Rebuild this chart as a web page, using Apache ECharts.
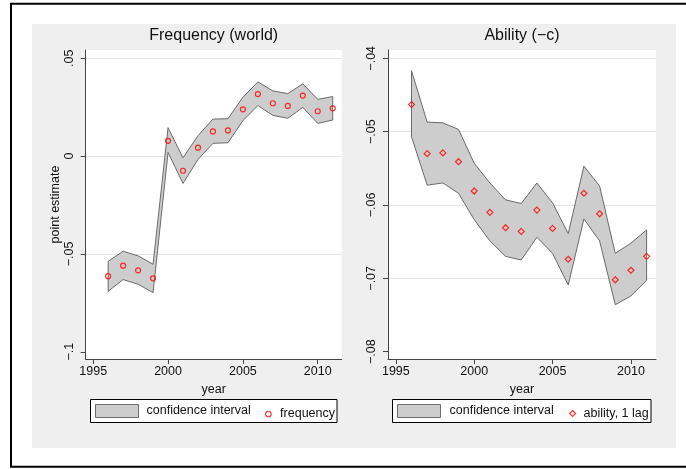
<!DOCTYPE html>
<html>
<head>
<meta charset="utf-8">
<script src="https://cdn.jsdelivr.net/npm/echarts@6/dist/echarts.min.js"></script>
<style>
  html, body { margin: 0; padding: 0; background: #fff; }
  #chart { width: 686px; height: 469px; }
</style>
</head>
<body>
<div id="chart"></div>
<script>
// Survey years
const years = [1996, 1997, 1998, 1999, 2000, 2001, 2002, 2003, 2004, 2005, 2006, 2007, 2008, 2009, 2010, 2011];

// Frequency (world): point estimates and 95% bounds
const freqPoint = [-0.0614, -0.0560, -0.0584, -0.0625, 0.0078, -0.0075, 0.0043, 0.0126, 0.0131, 0.0239, 0.0317, 0.0270, 0.0256, 0.0309, 0.0229, 0.0244];
const freqUpper = [-0.0538, -0.0486, -0.0510, -0.0553, 0.0145, -0.0009, 0.0104, 0.0189, 0.0191, 0.0300, 0.0379, 0.0333, 0.0319, 0.0369, 0.0290, 0.0304];
const freqLower = [-0.0691, -0.0631, -0.0655, -0.0698, 0.0019, -0.0140, -0.0017, 0.0065, 0.0068, 0.0181, 0.0258, 0.0208, 0.0193, 0.0249, 0.0167, 0.0184];

// Ability (-c), one lag: point estimates and 95% bounds
const abilPoint = [-0.0463, -0.0530, -0.0529, -0.0541, -0.0581, -0.0610, -0.0631, -0.0636, -0.0607, -0.0632, -0.0674, -0.0584, -0.0612, -0.0702, -0.0689, -0.0670];
const abilUpper = [-0.0417, -0.0487, -0.0488, -0.0497, -0.0543, -0.0570, -0.0593, -0.0598, -0.0570, -0.0597, -0.0639, -0.0547, -0.0574, -0.0666, -0.0652, -0.0634];
const abilLower = [-0.0507, -0.0573, -0.0570, -0.0584, -0.0620, -0.0649, -0.0670, -0.0675, -0.0644, -0.0666, -0.0709, -0.0619, -0.0649, -0.0736, -0.0724, -0.0703];

// Axis ticks and their labels
const xTicks = [1995, 2000, 2005, 2010];
const freqTicks = [-0.1, -0.05, 0, 0.05];
const freqTickLabels = ['\u2212.1', '\u2212.05', '0', '.05'];
const freqGrid = [-0.05, 0, 0.05];
const abilTicks = [-0.08, -0.07, -0.06, -0.05, -0.04];
const abilTickLabels = ['\u2212.08', '\u2212.07', '\u2212.06', '\u2212.05', '\u2212.04'];
const abilGrid = [-0.07, -0.06, -0.05, -0.04];

const FONT = "'Liberation Sans', Arial, Helvetica, sans-serif";
const INK = '#111';
const AXIS = '#444';
const BAND_FILL = '#cdcdcd';
const BAND_EDGE = '#6b6b6b';
const MARK = '#ff0000';

function tickFormatter(ticks, labels) {
  return function (v) {
    for (let i = 0; i < ticks.length; i++) {
      if (Math.abs(ticks[i] - v) < 1e-9) return labels[i];
    }
    return '';
  };
}

// Confidence band as one closed polygon (upper edge forward, lower edge back)
function bandRenderer(lower, upper) {
  return function (params, api) {
    if (params.dataIndex !== 0) return null;
    const pts = [];
    for (let i = 0; i < years.length; i++) pts.push(api.coord([years[i], upper[i]]));
    for (let i = years.length - 1; i >= 0; i--) pts.push(api.coord([years[i], lower[i]]));
    return {
      type: 'polygon',
      shape: { points: pts },
      style: { fill: BAND_FILL, stroke: BAND_EDGE, lineWidth: 1 }
    };
  };
}

function xAxisFor(gridIndex) {
  return {
    type: 'value', gridIndex: gridIndex, min: 1994.5, max: 2011.6,
    name: 'year', nameLocation: 'middle', nameGap: 15,
    nameTextStyle: { fontFamily: FONT, fontSize: 12.5, color: INK },
    axisLine: { show: true, onZero: false, lineStyle: { color: AXIS, width: 1 } },
    axisTick: { show: true, length: 5, customValues: xTicks, lineStyle: { color: AXIS } },
    axisLabel: { customValues: xTicks, margin: 6, fontFamily: FONT, fontSize: 12.5, color: INK,
                 formatter: function (v) { return String(v); } },
    splitLine: { show: false }
  };
}

function yAxisFor(gridIndex, min, max, ticks, labels, name) {
  return {
    type: 'value', gridIndex: gridIndex, min: min, max: max,
    name: name, nameLocation: 'middle', nameRotate: 90, nameGap: 22,
    nameTextStyle: { fontFamily: FONT, fontSize: 12.5, color: INK },
    axisLine: { show: true, onZero: false, lineStyle: { color: AXIS, width: 1 } },
    axisTick: { show: true, length: 5, customValues: ticks, lineStyle: { color: AXIS } },
    axisLabel: { customValues: ticks, rotate: 90, margin: 10, fontFamily: FONT, fontSize: 12.5, color: INK,
                 formatter: tickFormatter(ticks, labels) },
    splitLine: { show: false }
  };
}

// Companion axis that only carries the horizontal grid lines
function gridLineAxis(gridIndex, min, max, values) {
  return {
    type: 'value', gridIndex: gridIndex, min: min, max: max,
    axisLine: { show: false },
    axisTick: { show: false, customValues: values },
    axisLabel: { show: false, customValues: values },
    splitLine: { show: true, lineStyle: { color: '#e4e4e4', width: 1 } }
  };
}

const FREQ_MIN = -0.1037, FREQ_MAX = 0.0542;
const ABIL_MIN = -0.0810, ABIL_MAX = -0.03887;

const option = {
  animation: false,
  backgroundColor: '#ffffff',
  graphic: [
    { type: 'rect', z: -20, silent: true,
      shape: { x: 11, y: 3.7, width: 720, height: 463 },
      style: { fill: '#ffffff', stroke: '#000000', lineWidth: 2 } },
    { type: 'rect', z: -10, silent: true,
      shape: { x: 32, y: 24, width: 644, height: 424 },
      style: { fill: '#efefef' } },
    { type: 'rect', z: 3, silent: true,
      shape: { x: 90.5, y: 399.5, width: 246.5, height: 23 },
      style: { fill: '#ffffff', stroke: '#000000', lineWidth: 1 } },
    { type: 'rect', z: 3, silent: true,
      shape: { x: 392.5, y: 399.5, width: 258.5, height: 23 },
      style: { fill: '#ffffff', stroke: '#000000', lineWidth: 1 } }
  ],
  title: [
    { text: 'Frequency (world)', left: 213.7, top: 28, textAlign: 'center', padding: 0,
      textStyle: { fontFamily: FONT, fontSize: 16, fontWeight: 'normal', color: INK } },
    { text: 'Ability (\u2212c)', left: 522, top: 28, textAlign: 'center', padding: 0,
      textStyle: { fontFamily: FONT, fontSize: 16, fontWeight: 'normal', color: INK } }
  ],
  legend: [
    { data: [{ name: 'confidence interval', icon: 'rect',
               itemStyle: { color: BAND_FILL, borderColor: BAND_EDGE, borderWidth: 1 } }],
      left: 95, top: 404, padding: 0, itemWidth: 43, itemHeight: 13, selectedMode: false,
      textStyle: { fontFamily: FONT, fontSize: 12.5, color: INK, padding: [0, 0, 0, 3] } },
    { data: [{ name: 'frequency', icon: 'circle',
               itemStyle: { color: 'rgba(0,0,0,0)', borderColor: MARK, borderWidth: 1.2 } }],
      left: 265, top: 407.5, padding: 0, itemWidth: 5.5, itemHeight: 5.5, selectedMode: false,
      textStyle: { fontFamily: FONT, fontSize: 12.5, color: INK, padding: [0, 0, 0, 4] } },
    { data: [{ name: 'confidence interval', icon: 'rect',
               itemStyle: { color: BAND_FILL, borderColor: BAND_EDGE, borderWidth: 1 } }],
      left: 397, top: 404, padding: 0, itemWidth: 43, itemHeight: 13, selectedMode: false,
      textStyle: { fontFamily: FONT, fontSize: 12.5, color: INK, padding: [0, 0, 0, 4] } },
    { data: [{ name: 'ability, 1 lag', icon: 'diamond',
               itemStyle: { color: 'rgba(0,0,0,0)', borderColor: MARK, borderWidth: 1.2 } }],
      left: 569, top: 407, padding: 0, itemWidth: 6, itemHeight: 6, selectedMode: false,
      textStyle: { fontFamily: FONT, fontSize: 12.5, color: INK, padding: [0, 0, 0, 3] } }
  ],
  grid: [
    { left: 85.7, top: 50, width: 256, height: 309, show: true, backgroundColor: '#ffffff', borderWidth: 0 },
    { left: 388, top: 50, width: 268, height: 309, show: true, backgroundColor: '#ffffff', borderWidth: 0 }
  ],
  xAxis: [xAxisFor(0), xAxisFor(1)],
  yAxis: [
    yAxisFor(0, FREQ_MIN, FREQ_MAX, freqTicks, freqTickLabels, 'point estimate'),
    yAxisFor(1, ABIL_MIN, ABIL_MAX, abilTicks, abilTickLabels, ''),
    gridLineAxis(0, FREQ_MIN, FREQ_MAX, freqGrid),
    gridLineAxis(1, ABIL_MIN, ABIL_MAX, abilGrid)
  ],
  series: [
    { type: 'custom', name: 'confidence interval', xAxisIndex: 0, yAxisIndex: 0, z: 2,
      renderItem: bandRenderer(freqLower, freqUpper),
      itemStyle: { color: BAND_FILL, borderColor: BAND_EDGE, borderWidth: 1 },
      encode: { x: 0, y: [1, 2] },
      data: years.map(function (y, i) { return [y, freqLower[i], freqUpper[i]]; }) },
    { type: 'scatter', name: 'frequency', xAxisIndex: 0, yAxisIndex: 0, z: 3,
      symbol: 'circle', symbolSize: 5,
      itemStyle: { color: 'rgba(0,0,0,0)', borderColor: MARK, borderWidth: 1.2 },
      data: years.map(function (y, i) { return [y, freqPoint[i]]; }) },
    { type: 'custom', name: 'confidence interval', xAxisIndex: 1, yAxisIndex: 1, z: 2,
      renderItem: bandRenderer(abilLower, abilUpper),
      itemStyle: { color: BAND_FILL, borderColor: BAND_EDGE, borderWidth: 1 },
      encode: { x: 0, y: [1, 2] },
      data: years.map(function (y, i) { return [y, abilLower[i], abilUpper[i]]; }) },
    { type: 'scatter', name: 'ability, 1 lag', xAxisIndex: 1, yAxisIndex: 1, z: 3,
      symbol: 'diamond', symbolSize: 6,
      itemStyle: { color: 'rgba(0,0,0,0)', borderColor: MARK, borderWidth: 1.2 },
      data: years.map(function (y, i) { return [y, abilPoint[i]]; }) }
  ]
};

const chart = echarts.init(document.getElementById('chart'), null, { renderer: 'canvas' });
chart.setOption(option);
</script>
</body>
</html>
